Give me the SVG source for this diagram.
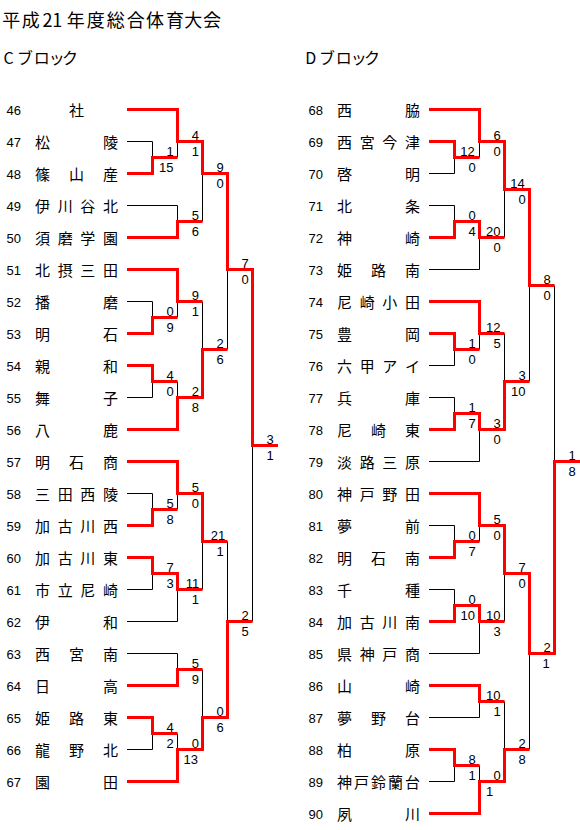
<svg xmlns="http://www.w3.org/2000/svg" width="580" height="830" viewBox="0 0 580 830">
<style>
.bg{fill:#fff}
.l{fill:none;stroke:#000;stroke-width:1}
.w{fill:none;stroke:#f00;stroke-width:3;stroke-linejoin:miter}
.num{font-family:"Liberation Sans",Arial,sans-serif;font-size:13px;fill:#000}
.n{font-family:"Noto Sans CJK JP",sans-serif;font-size:15px;fill:#000;text-anchor:middle}
.s{font-family:"Liberation Sans",Arial,sans-serif;font-size:13px;fill:#000;text-anchor:middle}
.t{font-family:"Noto Sans CJK JP",sans-serif;font-size:18px;fill:#000;text-anchor:middle}
.b{font-family:"Noto Sans CJK JP",sans-serif;font-size:16px;fill:#000;text-anchor:middle}
</style>
<rect class="bg" x="0" y="0" width="580" height="830"/>
<g id="title">
<text class="t" x="11.2 30.8 47.5 57.2 75.8 95.8 115.8 135.8 155 175 193.3 212" y="26.5">平成21年度総合体育大会</text>
</g>
<g id="blockC-label"><text class="b" x="8.7 25 41.7 56.7 70" y="64">Cブロック</text></g>
<g id="blockD-label"><text class="b" x="310.7 327 343.7 358.7 372" y="64">Dブロック</text></g>

<g id="connectors">
<path class="l" d="M127 141.5H152.5V157.5"/>
<path class="l" d="M177.5 157.5V141.5"/>
<path class="l" d="M127 205.5H177.5V221.5"/>
<path class="l" d="M202.5 221.5V173.5"/>
<path class="l" d="M127 301.5H152.5V317.5"/>
<path class="l" d="M177.5 317.5V301.5"/>
<path class="l" d="M127 397.5H152.5V381.5"/>
<path class="l" d="M177.5 381.5V397.5"/>
<path class="l" d="M202.5 301.5V349.5"/>
<path class="l" d="M227.5 349.5V269.5"/>
<path class="l" d="M252.5 621.5V445.5"/>
<path class="l" d="M127 493.5H152.5V509.5"/>
<path class="l" d="M177.5 509.5V493.5"/>
<path class="l" d="M127 589.5H152.5V573.5"/>
<path class="l" d="M127 621.5H177.5V589.5"/>
<path class="l" d="M202.5 589.5V541.5"/>
<path class="l" d="M227.5 541.5V621.5"/>
<path class="l" d="M127 653.5H177.5V669.5"/>
<path class="l" d="M127 749.5H152.5V733.5"/>
<path class="l" d="M177.5 733.5V749.5"/>
<path class="l" d="M202.5 669.5V717.5"/>
<path class="w" d="M127 109.5H177.5V141.5H202.5V173.5H227.5V269.5H252.5V445.5H278"/>
<path class="w" d="M127 173.5H152.5V157.5H177.5"/>
<path class="w" d="M127 237.5H177.5V221.5H202.5"/>
<path class="w" d="M127 269.5H177.5V301.5H202.5"/>
<path class="w" d="M127 333.5H152.5V317.5H177.5"/>
<path class="w" d="M127 365.5H152.5V381.5H177.5"/>
<path class="w" d="M127 429.5H177.5V397.5H202.5V349.5H227.5"/>
<path class="w" d="M127 461.5H177.5V493.5H202.5V541.5H227.5"/>
<path class="w" d="M127 525.5H152.5V509.5H177.5"/>
<path class="w" d="M127 557.5H152.5V573.5H177.5V589.5H202.5"/>
<path class="w" d="M127 685.5H177.5V669.5H202.5"/>
<path class="w" d="M127 717.5H152.5V733.5H177.5"/>
<path class="w" d="M127 781.5H177.5V749.5H202.5V717.5H227.5V621.5H252.5"/>
<path class="l" d="M429 173.5H454.5V157.5"/>
<path class="l" d="M479.5 157.5V141.5"/>
<path class="l" d="M429 205.5H454.5V221.5"/>
<path class="l" d="M429 269.5H479.5V237.5"/>
<path class="l" d="M504.5 237.5V189.5"/>
<path class="l" d="M529.5 381.5V285.5"/>
<path class="l" d="M554.5 285.5V461.5"/>
<path class="l" d="M429 365.5H454.5V349.5"/>
<path class="l" d="M479.5 349.5V333.5"/>
<path class="l" d="M429 397.5H454.5V413.5"/>
<path class="l" d="M429 461.5H479.5V429.5"/>
<path class="l" d="M504.5 333.5V381.5"/>
<path class="l" d="M429 525.5H454.5V541.5"/>
<path class="l" d="M479.5 541.5V525.5"/>
<path class="l" d="M429 589.5H454.5V605.5"/>
<path class="l" d="M429 653.5H479.5V621.5"/>
<path class="l" d="M504.5 621.5V573.5"/>
<path class="l" d="M529.5 749.5V653.5"/>
<path class="l" d="M429 717.5H479.5V701.5"/>
<path class="l" d="M429 781.5H454.5V765.5"/>
<path class="l" d="M479.5 765.5V781.5"/>
<path class="l" d="M504.5 701.5V749.5"/>
<path class="w" d="M429 109.5H479.5V141.5H504.5V189.5H529.5V285.5H554.5"/>
<path class="w" d="M429 141.5H454.5V157.5H479.5"/>
<path class="w" d="M429 237.5H454.5V221.5H479.5V237.5H504.5"/>
<path class="w" d="M429 301.5H479.5V333.5H504.5"/>
<path class="w" d="M429 333.5H454.5V349.5H479.5"/>
<path class="w" d="M429 429.5H454.5V413.5H479.5V429.5H504.5V381.5H529.5"/>
<path class="w" d="M429 493.5H479.5V525.5H504.5V573.5H529.5V653.5H554.5V461.5H580"/>
<path class="w" d="M429 557.5H454.5V541.5H479.5"/>
<path class="w" d="M429 621.5H454.5V605.5H479.5V621.5H504.5"/>
<path class="w" d="M429 685.5H479.5V701.5H504.5"/>
<path class="w" d="M429 749.5H454.5V765.5H479.5"/>
<path class="w" d="M429 813.5H479.5V781.5H504.5V749.5H529.5"/>
</g>

<g id="scores">
<text class="s" x="170" y="155.5">1</text><text class="s" x="166.3" y="172">15</text>
<text class="s" x="195.3" y="139.5">4</text><text class="s" x="195.3" y="156">1</text>
<text class="s" x="195.3" y="219.5">5</text><text class="s" x="195.3" y="236">6</text>
<text class="s" x="220" y="171.5">9</text><text class="s" x="220" y="188">0</text>
<text class="s" x="170" y="315.5">0</text><text class="s" x="170" y="332">9</text>
<text class="s" x="195.3" y="299.5">9</text><text class="s" x="195.3" y="316">1</text>
<text class="s" x="170" y="379.5">4</text><text class="s" x="170" y="396">0</text>
<text class="s" x="195.3" y="395.5">2</text><text class="s" x="195.3" y="412">8</text>
<text class="s" x="220" y="347.5">2</text><text class="s" x="220" y="364">6</text>
<text class="s" x="245" y="267.5">7</text><text class="s" x="245" y="284">0</text>
<text class="s" x="270" y="443.5">3</text><text class="s" x="270" y="460">1</text>
<text class="s" x="170" y="507.5">5</text><text class="s" x="170" y="524">8</text>
<text class="s" x="195.3" y="491.5">5</text><text class="s" x="195.3" y="508">0</text>
<text class="s" x="170" y="571.5">7</text><text class="s" x="170" y="588">3</text>
<text class="s" x="192.5" y="587.5">11</text><text class="s" x="195.3" y="604">1</text>
<text class="s" x="218" y="539.5">21</text><text class="s" x="220" y="556">1</text>
<text class="s" x="245" y="619.5">2</text><text class="s" x="245" y="636">5</text>
<text class="s" x="195.3" y="667.5">5</text><text class="s" x="195.3" y="684">9</text>
<text class="s" x="170" y="731.5">4</text><text class="s" x="170" y="748">2</text>
<text class="s" x="195.3" y="747.5">0</text><text class="s" x="190.8" y="764">13</text>
<text class="s" x="220" y="715.5">0</text><text class="s" x="220" y="732">6</text>

<text class="s" x="467.5" y="155.5">12</text><text class="s" x="472" y="172">0</text>
<text class="s" x="497" y="139.5">6</text><text class="s" x="497" y="156">0</text>
<text class="s" x="472" y="219.5">0</text><text class="s" x="472" y="236">4</text>
<text class="s" x="493.3" y="235.5">20</text><text class="s" x="497" y="252">0</text>
<text class="s" x="517.5" y="187.5">14</text><text class="s" x="522" y="204">0</text>
<text class="s" x="547" y="283.5">8</text><text class="s" x="547" y="300">0</text>
<text class="s" x="472" y="347.5">1</text><text class="s" x="472" y="364">0</text>
<text class="s" x="493.3" y="331.5">12</text><text class="s" x="497" y="348">5</text>
<text class="s" x="472" y="411.5">1</text><text class="s" x="472" y="428">7</text>
<text class="s" x="497" y="427.5">3</text><text class="s" x="497" y="444">0</text>
<text class="s" x="522" y="379.5">3</text><text class="s" x="518.3" y="396">10</text>
<text class="s" x="572" y="459.5">1</text><text class="s" x="572" y="476">8</text>
<text class="s" x="472" y="539.5">0</text><text class="s" x="472" y="556">7</text>
<text class="s" x="497" y="523.5">5</text><text class="s" x="497" y="540">0</text>
<text class="s" x="472" y="603.5">0</text><text class="s" x="467.8" y="620">10</text>
<text class="s" x="493.3" y="619.5">10</text><text class="s" x="497" y="636">3</text>
<text class="s" x="522" y="571.5">7</text><text class="s" x="522" y="588">0</text>
<text class="s" x="547" y="651.5">2</text><text class="s" x="546" y="668">1</text>
<text class="s" x="493.3" y="699.5">10</text><text class="s" x="497" y="716">1</text>
<text class="s" x="472" y="763.5">8</text><text class="s" x="472" y="780">1</text>
<text class="s" x="497" y="779.5">0</text><text class="s" x="489.5" y="796">1</text>
<text class="s" x="522" y="747.5">2</text><text class="s" x="522" y="764">8</text>
</g>

<g id="t46"><text class="num" x="6.5" y="114.5">46</text><text class="n" x="76.5" y="116">社</text></g>
<g id="t47"><text class="num" x="6.5" y="146.5">47</text><text class="n" x="42.5 110.5" y="148">松陵</text></g>
<g id="t48"><text class="num" x="6.5" y="178.5">48</text><text class="n" x="42.5 76.5 110.5" y="180">篠山産</text></g>
<g id="t49"><text class="num" x="6.5" y="210.5">49</text><text class="n" x="42.5 65.2 87.8 110.5" y="212">伊川谷北</text></g>
<g id="t50"><text class="num" x="6.5" y="242.5">50</text><text class="n" x="42.5 65.2 87.8 110.5" y="244">須磨学園</text></g>
<g id="t51"><text class="num" x="6.5" y="274.5">51</text><text class="n" x="42.5 65.2 87.8 110.5" y="276">北摂三田</text></g>
<g id="t52"><text class="num" x="6.5" y="306.5">52</text><text class="n" x="42.5 110.5" y="308">播磨</text></g>
<g id="t53"><text class="num" x="6.5" y="338.5">53</text><text class="n" x="42.5 110.5" y="340">明石</text></g>
<g id="t54"><text class="num" x="6.5" y="370.5">54</text><text class="n" x="42.5 110.5" y="372">親和</text></g>
<g id="t55"><text class="num" x="6.5" y="402.5">55</text><text class="n" x="42.5 110.5" y="404">舞子</text></g>
<g id="t56"><text class="num" x="6.5" y="434.5">56</text><text class="n" x="42.5 110.5" y="436">八鹿</text></g>
<g id="t57"><text class="num" x="6.5" y="466.5">57</text><text class="n" x="42.5 76.5 110.5" y="468">明石商</text></g>
<g id="t58"><text class="num" x="6.5" y="498.5">58</text><text class="n" x="42.5 65.2 87.8 110.5" y="500">三田西陵</text></g>
<g id="t59"><text class="num" x="6.5" y="530.5">59</text><text class="n" x="42.5 65.2 87.8 110.5" y="532">加古川西</text></g>
<g id="t60"><text class="num" x="6.5" y="562.5">60</text><text class="n" x="42.5 65.2 87.8 110.5" y="564">加古川東</text></g>
<g id="t61"><text class="num" x="6.5" y="594.5">61</text><text class="n" x="42.5 65.2 87.8 110.5" y="596">市立尼崎</text></g>
<g id="t62"><text class="num" x="6.5" y="626.5">62</text><text class="n" x="42.5 110.5" y="628">伊和</text></g>
<g id="t63"><text class="num" x="6.5" y="658.5">63</text><text class="n" x="42.5 76.5 110.5" y="660">西宮南</text></g>
<g id="t64"><text class="num" x="6.5" y="690.5">64</text><text class="n" x="42.5 110.5" y="692">日高</text></g>
<g id="t65"><text class="num" x="6.5" y="722.5">65</text><text class="n" x="42.5 76.5 110.5" y="724">姫路東</text></g>
<g id="t66"><text class="num" x="6.5" y="754.5">66</text><text class="n" x="42.5 76.5 110.5" y="756">龍野北</text></g>
<g id="t67"><text class="num" x="6.5" y="786.5">67</text><text class="n" x="42.5 110.5" y="788">園田</text></g>

<g id="t68"><text class="num" x="308.5" y="114.5">68</text><text class="n" x="344.5 412.5" y="116">西脇</text></g>
<g id="t69"><text class="num" x="308.5" y="146.5">69</text><text class="n" x="344.5 367.2 389.8 412.5" y="148">西宮今津</text></g>
<g id="t70"><text class="num" x="308.5" y="178.5">70</text><text class="n" x="344.5 412.5" y="180">啓明</text></g>
<g id="t71"><text class="num" x="308.5" y="210.5">71</text><text class="n" x="344.5 412.5" y="212">北条</text></g>
<g id="t72"><text class="num" x="308.5" y="242.5">72</text><text class="n" x="344.5 412.5" y="244">神崎</text></g>
<g id="t73"><text class="num" x="308.5" y="274.5">73</text><text class="n" x="344.5 378.5 412.5" y="276">姫路南</text></g>
<g id="t74"><text class="num" x="308.5" y="306.5">74</text><text class="n" x="344.5 367.2 389.8 412.5" y="308">尼崎小田</text></g>
<g id="t75"><text class="num" x="308.5" y="338.5">75</text><text class="n" x="344.5 412.5" y="340">豊岡</text></g>
<g id="t76"><text class="num" x="308.5" y="370.5">76</text><text class="n" x="344.5 367.2 389.8 412.5" y="372">六甲アイ</text></g>
<g id="t77"><text class="num" x="308.5" y="402.5">77</text><text class="n" x="344.5 412.5" y="404">兵庫</text></g>
<g id="t78"><text class="num" x="308.5" y="434.5">78</text><text class="n" x="344.5 378.5 412.5" y="436">尼崎東</text></g>
<g id="t79"><text class="num" x="308.5" y="466.5">79</text><text class="n" x="344.5 367.2 389.8 412.5" y="468">淡路三原</text></g>
<g id="t80"><text class="num" x="308.5" y="498.5">80</text><text class="n" x="344.5 367.2 389.8 412.5" y="500">神戸野田</text></g>
<g id="t81"><text class="num" x="308.5" y="530.5">81</text><text class="n" x="344.5 412.5" y="532">夢前</text></g>
<g id="t82"><text class="num" x="308.5" y="562.5">82</text><text class="n" x="344.5 378.5 412.5" y="564">明石南</text></g>
<g id="t83"><text class="num" x="308.5" y="594.5">83</text><text class="n" x="344.5 412.5" y="596">千種</text></g>
<g id="t84"><text class="num" x="308.5" y="626.5">84</text><text class="n" x="344.5 367.2 389.8 412.5" y="628">加古川南</text></g>
<g id="t85"><text class="num" x="308.5" y="658.5">85</text><text class="n" x="344.5 367.2 389.8 412.5" y="660">県神戸商</text></g>
<g id="t86"><text class="num" x="308.5" y="690.5">86</text><text class="n" x="344.5 412.5" y="692">山崎</text></g>
<g id="t87"><text class="num" x="308.5" y="722.5">87</text><text class="n" x="344.5 378.5 412.5" y="724">夢野台</text></g>
<g id="t88"><text class="num" x="308.5" y="754.5">88</text><text class="n" x="344.5 412.5" y="756">柏原</text></g>
<g id="t89"><text class="num" x="308.5" y="786.5">89</text><text class="n" x="344.5 361.5 378.5 395.5 412.5" y="788">神戸鈴蘭台</text></g>
<g id="t90"><text class="num" x="308.5" y="818.5">90</text><text class="n" x="344.5 412.5" y="820">夙川</text></g>
</svg>
